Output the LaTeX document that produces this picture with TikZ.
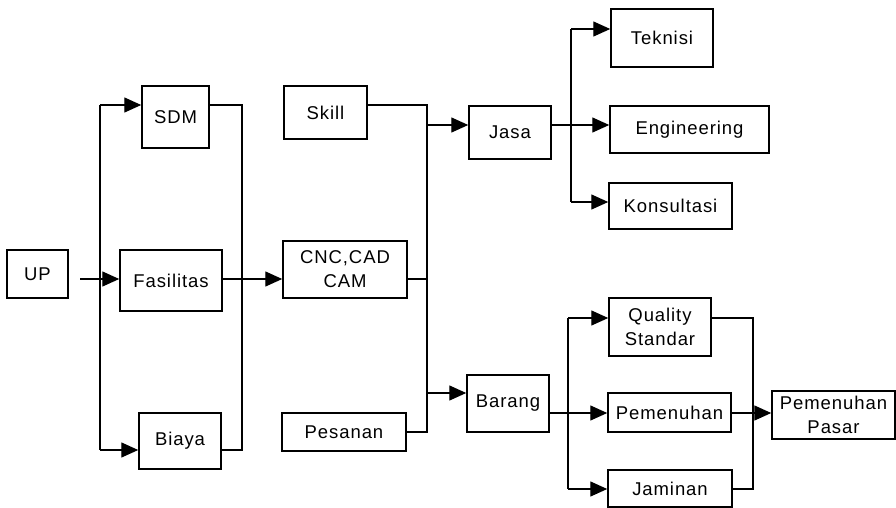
\documentclass[tikz,border=0pt]{standalone}
\usepackage{fontspec}
\setmainfont{Liberation Sans}[LetterSpace=5]
\usetikzlibrary{arrows.meta}
\begin{document}
\begin{tikzpicture}[x=1pt,y=-1pt,
  box/.style={draw, line width=1.5pt, inner sep=0pt, align=center,
    font=\fontsize{18.5}{24}\selectfont},
  wire/.style={line width=1.4pt},
  arr/.style={wire, -{Triangle[length=17pt,width=15pt]}}]
\useasboundingbox (0,0) rectangle (896,508);
% nodes
\node[box, minimum width=61pt, minimum height=48pt] (up) at (37.5,274) {UP};
\node[box, minimum width=67pt, minimum height=62pt] (sdm) at (175.5,117) {SDM};
\node[box, minimum width=102pt, minimum height=61pt] (fas) at (171,280.5) {Fasilitas};
\node[box, minimum width=82pt, minimum height=56pt] (biaya) at (180,441) {Biaya};
\node[box, minimum width=83pt, minimum height=53pt] (skill) at (325.5,112.5) {Skill};
\node[box, minimum width=124pt, minimum height=57pt] (cnc) at (345,269.5) {CNC,CAD\\CAM};
\node[box, minimum width=124pt, minimum height=38pt] (pes) at (344,432) {Pesanan};
\node[box, minimum width=82pt, minimum height=53pt] (jasa) at (510,132.5) {Jasa};
\node[box, minimum width=82pt, minimum height=57pt] (barang) at (508,403.5) {Barang};
\node[box, minimum width=102pt, minimum height=58pt] (tek) at (662,38) {Teknisi};
\node[box, minimum width=159pt, minimum height=47pt] (eng) at (689.5,129.5) {Engineering};
\node[box, minimum width=123pt, minimum height=46pt] (kons) at (670.5,206) {Konsultasi};
\node[box, minimum width=102pt, minimum height=58pt] (qual) at (660,327) {Quality\\Standar};
\node[box, minimum width=123pt, minimum height=39pt] (pem) at (669.5,412.5) {Pemenuhan};
\node[box, minimum width=124pt, minimum height=37pt] (jam) at (670,488.5) {Jaminan};
\node[box, minimum width=123pt, minimum height=48pt] (pp) at (833.5,415) {Pemenuhan\\Pasar};
% junction coordinates
\coordinate (upout) at (80,279);
\coordinate (bLt) at (100,105);
\coordinate (bLb) at (100,450);
\coordinate (cRt) at (242,105);
\coordinate (cRb) at (242,450);
\coordinate (sk) at (427,105);
\coordinate (pk) at (427,432);
\coordinate (ja) at (427,125);
\coordinate (ba) at (427,393);
\coordinate (jvt) at (571,29);
\coordinate (jvb) at (571,202);
\coordinate (bvt) at (568,318);
\coordinate (bvb) at (568,489);
\coordinate (qvt) at (753,318);
\coordinate (qvb) at (753,489);
\coordinate (bout) at (568,413);
% left group
\draw[wire] (bLt) -- (bLb);
\draw[arr] (bLt) -- (bLt -| sdm.west);
\draw[arr] (upout) -- (upout -| fas.west);
\draw[arr] (bLb) -- (bLb -| biaya.west);
\draw[wire] (sdm.east |- cRt) -- (cRt) -- (cRb) -- (biaya.east |- cRb);
\draw[arr] (fas.east |- upout) -- (cnc.west |- upout);
% middle group
\draw[wire] (skill.east |- sk) -- (sk) -- (pk) -- (pes.east |- pk);
\draw[wire] (cnc.east |- upout) -- (upout -| sk);
\draw[arr] (ja) -- (ja -| jasa.west);
\draw[arr] (ba) -- (ba -| barang.west);
% jasa group
\draw[wire] (jvt) -- (jvb);
\draw[arr] (jvt) -- (jvt -| tek.west);
\draw[arr] (jasa.east |- ja) -- (eng.west |- ja);
\draw[arr] (jvb) -- (jvb -| kons.west);
% barang group
\draw[wire] (bvt) -- (bvb);
\draw[arr] (bvt) -- (bvt -| qual.west);
\draw[arr] (barang.east |- bout) -- (pem.west |- bout);
\draw[arr] (bvb) -- (bvb -| jam.west);
\draw[wire] (qual.east |- qvt) -- (qvt) -- (qvb) -- (jam.east |- qvb);
\draw[arr] (pem.east |- bout) -- (pp.west |- bout);
\end{tikzpicture}
\end{document}
